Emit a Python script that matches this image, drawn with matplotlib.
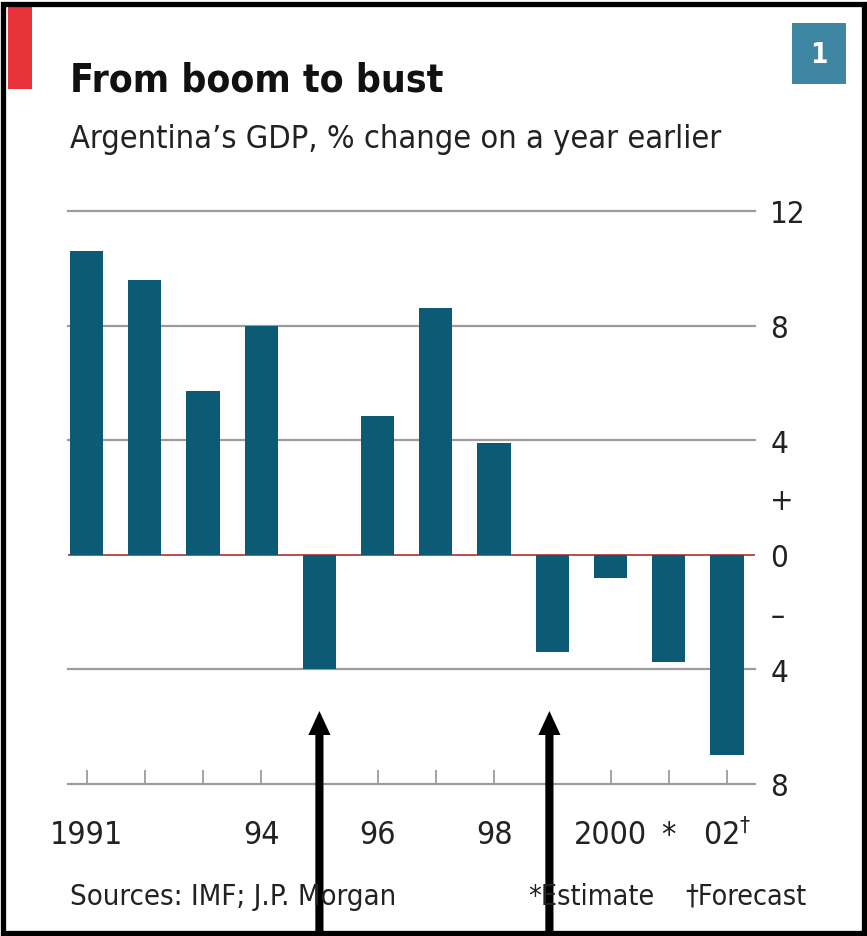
import matplotlib
matplotlib.use("Agg")
import matplotlib.pyplot as plt
from matplotlib.patches import Rectangle, FancyArrow
from matplotlib.transforms import blended_transform_factory

# Data
years = [1991, 1992, 1993, 1994, 1995, 1996, 1997, 1998, 1999, 2000, 2001, 2002]
gdp_change = [10.6, 9.6, 5.7, 8.0, -4.0, 4.85, 8.6, 3.9, -3.4, -0.8, -3.75, -7.0]
year_labels = ["1991", "", "", "94", "", "96", "", "98", "", "2000", "*", r"02$^{\dagger}$"]
y_ticks = [12, 8, 4, 2, 0, -2, -4, -8]
y_labels = ["12", "8", "4", "+", "0", "\u2013", "4", "8"]
arrow_years = [1995, 1999]

W, H = 867, 937
BAR = "#0d5a75"
GRID = "#9c9c9c"
TXT = "#222222"

plt.rcParams["font.family"] = "DejaVu Sans"
plt.rcParams["font.stretch"] = "condensed"

fig = plt.figure(figsize=(W / 100, H / 100), dpi=100)
fig.patch.set_facecolor("white")

# plot area in pixel terms
ax = fig.add_axes([68 / W, 1 - 785 / H, (755 - 68) / W, (785 - 212) / H])
ax.set_xlim(1990.682, 2002.481)
ax.set_ylim(-8, 12)

for g in [12, 8, 4, -4]:
    ax.axhline(g, color=GRID, lw=1.6, zorder=1, clip_on=False)
ax.axhline(0, color="#b5403a", lw=1.3, zorder=1)

ax.bar(years, gdp_change, width=0.57, color=BAR, zorder=2)

for side in ["top", "left", "right"]:
    ax.spines[side].set_visible(False)
ax.spines["bottom"].set_color(GRID)
ax.spines["bottom"].set_linewidth(1.6)

ax.set_xticks(years)
ax.set_xticklabels(year_labels)
ax.tick_params(axis="x", direction="in", length=10, width=1.3, color=GRID,
               labelsize=23, labelcolor=TXT, pad=25)

ax.yaxis.tick_right()
ax.set_yticks(y_ticks)
ax.set_yticklabels(y_labels)
ax.tick_params(axis="y", length=0, labelsize=22.5, labelcolor=TXT, pad=11)

# headings
fig.text(70 / W, 1 - 92 / H, "From boom to bust", fontsize=28, fontweight="bold",
         color="#111111", va="baseline", ha="left")
fig.text(70 / W, 1 - 148 / H, "Argentina\u2019s GDP, % change on a year earlier",
         fontsize=23.3, color=TXT, va="baseline", ha="left")
fig.text(70 / W, 1 - 905 / H, "Sources: IMF; J.P. Morgan", fontsize=21,
         color=TXT, va="baseline", ha="left")
fig.text(528 / W, 1 - 905 / H, "*Estimate", fontsize=20.5,
         color=TXT, va="baseline", ha="left")
fig.text(685 / W, 1 - 905 / H, "\u2020Forecast", fontsize=20.5,
         color=TXT, va="baseline", ha="left")

# red tag and number box
fig.add_artist(Rectangle((8 / W, 1 - 90 / H), 24 / W, 85 / H,
                         transform=fig.transFigure, color="#e8323a", lw=0))
fig.add_artist(Rectangle((792 / W, 1 - 85 / H), 54 / W, 61 / H,
                         transform=fig.transFigure, color="#3f86a3", lw=0))
fig.text(819 / W, 1 - 55 / H, "1", fontsize=20, fontweight="bold",
         color="white", ha="center", va="center")

# black frame
fig.add_artist(Rectangle((3 / W, 3 / H), (W - 6) / W, (H - 8) / H,
                         transform=fig.transFigure, fill=False,
                         edgecolor="black", lw=3.8))

# arrows pointing up at the recession years
tr = blended_transform_factory(ax.transData, fig.transFigure)
for yr in arrow_years:
    fig.add_artist(FancyArrow(yr - 0.05 * (yr == 1999), 0.0, 0, 1 - 712 / H,
                              width=0.14, head_width=0.38, head_length=24 / H,
                              length_includes_head=True, color="black",
                              transform=tr, lw=0))

fig.savefig("out.png", dpi=100)
